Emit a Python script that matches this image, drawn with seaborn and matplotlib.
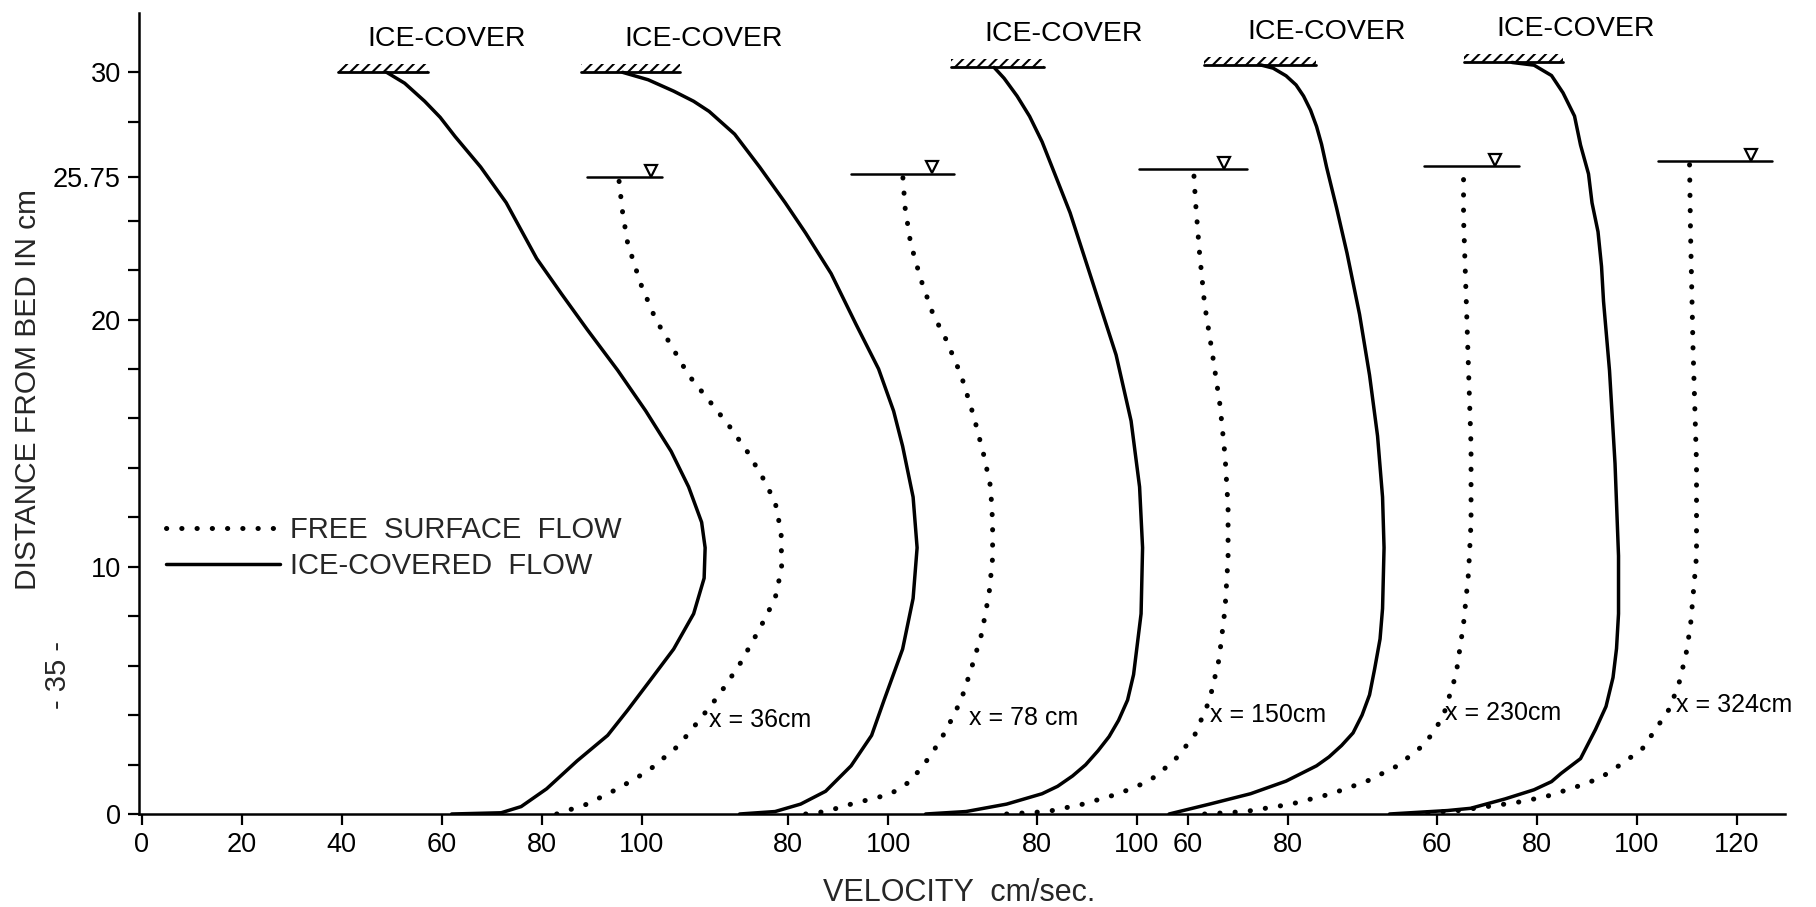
import numpy as np
import pandas as pd
import matplotlib
matplotlib.use("Agg")
import matplotlib.pyplot as plt
import seaborn as sns
from matplotlib.lines import Line2D
from matplotlib.patches import Rectangle

# ---------------- data (velocity on the common plotting axis, depth in cm) ----------------
stations = ["x = 36cm", "x = 78 cm", "x = 150cm", "x = 230cm", "x = 324cm"]

ice1_v = [62.0, 71.9, 75.9, 81.0, 87.1, 93.2, 97.2, 101.8, 106.4, 110.4, 112.5, 112.7, 112.0, 109.4,
          105.9, 100.8, 95.2, 89.1, 84.0, 79.0, 72.9, 67.8, 62.7, 59.7, 56.6, 52.6, 49.0]
ice1_z = [0.0, 0.05, 0.30, 1.02, 2.15, 3.18, 4.20, 5.43, 6.67, 8.10, 9.54, 10.77, 11.80, 13.23,
          14.67, 16.31, 17.95, 19.60, 21.03, 22.47, 24.73, 26.17, 27.40, 28.18, 28.83, 29.56, 30.0]
free1_v = [83.0, 89.1, 95.2, 101.3, 107.4, 111.5, 115.5, 119.6, 123.6, 126.7, 128.0, 127.9, 126.7,
           124.1, 121.1, 117.5, 113.5, 109.4, 106.4, 102.8, 99.8, 97.2, 96.2, 95.4]
free1_z = [0.0, 0.40, 1.02, 1.74, 2.77, 3.79, 4.82, 6.05, 7.49, 8.72, 9.95, 11.39, 12.62,
           13.65, 14.67, 15.70, 16.72, 17.75, 18.78, 20.01, 21.45, 23.09, 24.32, 25.75]

ice2_v = [119.6, 126.7, 131.8, 136.8, 141.9, 146.0, 148.5, 152.2, 154.3, 155.1, 154.3, 152.2, 150.4,
          147.4, 142.9, 137.9, 132.8, 128.7, 123.6, 118.6, 113.5, 110.4, 106.4, 101.3, 96.2]
ice2_z = [0.0, 0.10, 0.40, 0.92, 1.95, 3.18, 4.61, 6.67, 8.72, 10.77, 12.82, 14.88, 16.30,
          18.00, 19.80, 21.86, 23.50, 24.73, 26.17, 27.50, 28.42, 28.83, 29.24, 29.70, 30.0]
free2_v = [132.8, 136.8, 141.9, 149.7, 153.8, 157.8, 160.9, 163.9, 165.9, 168.0, 169.5, 170.2, 170.2,
           169.8, 168.5, 166.4, 163.9, 160.9, 158.3, 155.8, 153.8, 152.7, 152.2]
free2_z = [0.0, 0.10, 0.40, 0.80, 1.33, 2.36, 3.38, 4.61, 5.85, 7.28, 8.92, 10.36, 11.80,
           13.23, 14.47, 16.11, 17.75, 19.19, 20.21, 21.65, 23.09, 24.52, 25.90]

ice3_v = [156.8, 164.9, 173.0, 180.1, 183.2, 186.2, 188.8, 191.3, 193.5, 195.4, 197.2, 198.4, 199.9,
          200.2, 199.6, 197.9, 194.9, 190.3, 185.7, 182.7, 180.1, 177.6, 175.1, 172.5, 170.5]
ice3_z = [0.0, 0.10, 0.40, 0.82, 1.12, 1.54, 1.99, 2.56, 3.13, 3.79, 4.61, 5.64, 8.10,
          10.77, 13.23, 15.90, 18.57, 21.45, 24.32, 25.86, 27.19, 28.22, 29.04, 29.76, 30.2]
free3_v = [173.0, 181.2, 188.3, 195.4, 201.5, 206.5, 210.6, 213.6, 215.5, 216.7, 217.3, 217.3, 216.7,
           215.7, 214.2, 212.6, 211.6, 210.8, 210.4]
free3_z = [0.0, 0.10, 0.40, 0.82, 1.33, 2.15, 3.18, 4.61, 6.26, 8.31, 10.36, 12.41, 14.47,
           16.52, 18.57, 20.62, 22.68, 24.73, 26.07]

ice4_v = [205.5, 213.6, 221.8, 228.9, 235.0, 237.5, 240.0, 242.3, 244.1, 245.6, 246.6, 247.7, 248.2,
          248.5, 248.2, 247.2, 245.6, 243.6, 241.1, 239.0, 237.0, 236.0, 235.0, 233.8, 232.4, 230.9,
          228.9, 226.3, 223.8]
ice4_z = [0.0, 0.40, 0.82, 1.33, 1.95, 2.31, 2.77, 3.28, 4.00, 4.82, 5.85, 7.08, 8.31,
          10.77, 12.82, 15.29, 17.75, 20.21, 22.68, 24.52, 26.17, 27.09, 27.81, 28.47, 29.04, 29.49,
          29.86, 30.17, 30.3]
free4_v = [212.6, 220.8, 229.9, 238.0, 245.1, 251.2, 256.3, 258.5, 260.4, 262.9, 264.4, 265.4, 265.9,
           265.9, 265.4, 264.9, 264.4, 264.4]
free4_z = [0.0, 0.10, 0.40, 0.82, 1.33, 1.95, 2.77, 3.34, 4.00, 5.64, 7.69, 9.75, 11.80,
           14.88, 17.95, 21.03, 24.11, 26.2]

ice5_v = [249.6, 261.2, 265.8, 272.7, 278.5, 282.0, 283.9, 287.8, 290.8, 292.9, 294.3, 295.0, 295.4,
          295.4, 294.7, 293.6, 292.4, 292.0, 291.3, 290.1, 289.4, 287.8, 286.6, 284.3, 282.0, 278.5,
          274.1]
ice5_z = [0.0, 0.14, 0.23, 0.61, 0.98, 1.31, 1.64, 2.24, 3.42, 4.35, 5.52, 6.69, 8.10,
          10.44, 14.18, 17.93, 20.74, 22.15, 23.55, 24.72, 25.89, 27.06, 28.23, 29.17, 29.87, 30.29,
          30.4]
free5_v = [254.2, 263.5, 275.1, 280.8, 286.7, 291.7, 295.9, 300.1, 302.8, 305.6, 307.5, 308.9, 309.8,
           311.0, 311.0, 310.3, 309.8, 309.6]
free5_z = [0.0, 0.14, 0.47, 0.70, 1.08, 1.45, 2.01, 2.62, 3.42, 4.26, 5.29, 6.46, 7.63,
           10.44, 14.18, 18.87, 23.55, 26.4]

ice_v = [ice1_v, ice2_v, ice3_v, ice4_v, ice5_v]
ice_z = [ice1_z, ice2_z, ice3_z, ice4_z, ice5_z]
free_v = [free1_v, free2_v, free3_v, free4_v, free5_v]
free_z = [free1_z, free2_z, free3_z, free4_z, free5_z]

# water surface (free flow) and ice cover levels
surface_z = [25.75, 25.9, 26.07, 26.2, 26.4]
surface_from = [89.1, 141.9, 199.4, 256.5, 303.3]
surface_to = [104.1, 162.4, 221.0, 275.4, 326.1]
surface_mark = [101.8, 158.0, 216.4, 270.7, 321.9]
cover_z = [30.0, 30.0, 30.2, 30.3, 30.4]
cover_from = [39.3, 87.9, 161.9, 212.4, 264.4]
cover_to = [57.3, 107.7, 180.4, 234.8, 284.2]
cover_label_x = [60.9, 112.3, 184.5, 237.1, 286.9]
station_label_x = [113.5, 165.4, 213.7, 260.6, 306.9]
station_label_z = [3.8, 3.9, 4.0, 4.1, 4.4]

# velocity scales (each profile has its own shifted scale)
scale_offsets = [0.0, 49.3, 99.0, 149.3, 199.0]
scale_values = [[0, 20, 40, 60, 80, 100], [80, 100], [80, 100], [60, 80], [60, 80, 100, 120]]

ytick_values = [0, 2, 4, 6, 8, 10, 12, 14, 16, 18, 20, 22, 24, 25.75, 28, 30]
ytick_labels = ["0", "", "", "", "", "10", "", "", "", "", "20", "", "", "25.75", "", "30"]

# ---------------- style ----------------
sns.set_theme(style="ticks")
plt.rcParams["font.family"] = ["Liberation Sans", "DejaVu Sans"]
plt.rcParams["hatch.linewidth"] = 1.5

W, H = 1816, 907
fig = plt.figure(figsize=(W / 100, H / 100), dpi=100)
ax = fig.add_axes([139 / W, 1 - 814 / H, (1785 - 139) / W, (814 - 13) / H])

DOT = dict(color="black", lw=3.6, linestyle=(0, (0.05, 3.0)), dash_capstyle="round")
SOLID = dict(color="black", lw=2.5, solid_joinstyle="round", solid_capstyle="round")

for i in range(5):
    dfi = pd.DataFrame({"velocity": ice_v[i], "depth": ice_z[i]})
    sns.lineplot(data=dfi, x="velocity", y="depth", sort=False, estimator=None, ax=ax, **SOLID)
    dff = pd.DataFrame({"velocity": free_v[i], "depth": free_z[i]})
    sns.lineplot(data=dff, x="velocity", y="depth", sort=False, estimator=None, ax=ax, **DOT)

    # water surface with triangle
    ax.plot([surface_from[i], surface_to[i]], [surface_z[i]] * 2, color="black", lw=1.8)
    ax.plot([surface_mark[i]], [surface_z[i] + 0.27], marker="v", ms=9, mfc="white",
            mec="black", mew=1.6, clip_on=False)
    # ice cover with hatching
    ax.plot([cover_from[i], cover_to[i]], [cover_z[i]] * 2, color="black", lw=2.0, clip_on=False)
    ax.add_patch(Rectangle((cover_from[i], cover_z[i]), cover_to[i] - cover_from[i], 0.34,
                           hatch="///", fill=False, lw=0, edgecolor="black", clip_on=False))
    ax.text(cover_label_x[i], cover_z[i] + 1.35, "ICE-COVER", ha="center", va="center",
            fontsize=20.5, color="black")
    ax.text(station_label_x[i], station_label_z[i], stations[i], ha="left", va="center",
            fontsize=18, color="black")

# axes
xt, xl = [], []
for off, vals in zip(scale_offsets, scale_values):
    for v in vals:
        xt.append(off + v)
        xl.append(str(v))
ax.set_xticks(xt)
ax.set_xticklabels(xl)
ax.set_yticks(ytick_values)
ax.set_yticklabels(ytick_labels)
ax.set_xlim(-0.54, 328.7)
ax.set_ylim(0, 32.4)
ax.tick_params(direction="out", length=8, width=1.6, labelsize=19.5, colors="black", pad=5)
sns.despine(ax=ax)
for s in ["left", "bottom"]:
    ax.spines[s].set_linewidth(1.8)
    ax.spines[s].set_color("black")
ax.set_xlabel("")
ax.set_ylabel("")

# legend
handles = [Line2D([], [], **DOT), Line2D([], [], **SOLID)]
leg = ax.legend(handles, ["FREE  SURFACE  FLOW", "ICE-COVERED  FLOW"], loc="center left",
                bbox_to_anchor=(0.0165, 0.332), frameon=False, fontsize=21, handlelength=3.9,
                handletextpad=0.35, labelspacing=0.28, borderpad=0, borderaxespad=0)

fig.text(959 / W, 1 - 893 / H, "VELOCITY  cm/sec.", ha="center", va="center", fontsize=22)
fig.text(28 / W, 1 - 390 / H, "DISTANCE FROM BED IN cm", ha="center", va="center",
         fontsize=21.5, rotation=90)
fig.text(58 / W, 1 - 675 / H, "- 35 -", ha="center", va="center", fontsize=21, rotation=90)

fig.savefig("out.png", dpi=100, facecolor="white")
